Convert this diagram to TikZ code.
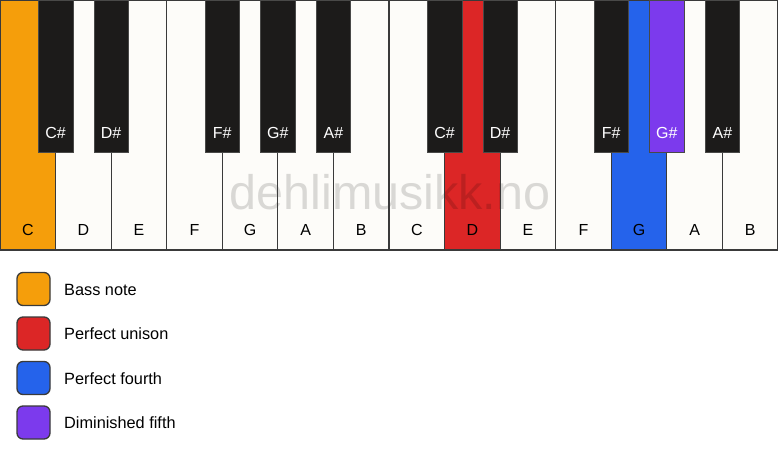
\documentclass[tikz,border=0pt]{standalone}
\usepackage{fontspec}
\setmainfont{Liberation Sans}
\definecolor{keywhite}{HTML}{FDFCF9}
\definecolor{keyblack}{HTML}{1C1B1A}
\definecolor{keyline}{HTML}{3A3A3A}
\definecolor{cbass}{HTML}{F59E0B}
\definecolor{cunison}{HTML}{DC2626}
\definecolor{cfourth}{HTML}{2563EB}
\definecolor{cfifth}{HTML}{7C3AED}
\tikzset{
  whitekey/.style={fill=keywhite, rectangle, anchor=north west, minimum width=55.571pt, minimum height=250pt, inner sep=0pt, outer sep=0pt},
  keyedge/.style={draw=keyline, line width=1.2pt},
  blackkey/.style={draw=keyblack!80, line width=0.6pt, fill=keyblack, rectangle, anchor=north, minimum width=34.5pt, minimum height=152.5pt, inner sep=0pt, outer sep=0pt},
  wlabel/.style={font=\fontsize{16}{16}\selectfont, text=black, inner sep=0pt},
  blabel/.style={font=\fontsize{16}{16}\selectfont, text=white, inner sep=0pt},
  legbox/.style={draw=keyline, line width=1.3pt, rounded corners=6pt, minimum width=33pt, minimum height=33pt, inner sep=0pt},
  legtext/.style={font=\fontsize{16.3}{16.3}\selectfont, anchor=west, inner sep=0pt},
  watermark/.style={font=\fontsize{48.5}{48.5}\selectfont, text=black, text opacity=0.14, inner sep=0pt},
}
\begin{document}
\begin{tikzpicture}[x=1pt,y=-1pt]
\useasboundingbox[fill=white] (0,0) rectangle (778,461);
% white keys (fills)
\foreach \i/\c in {0/cbass,1/keywhite,2/keywhite,3/keywhite,4/keywhite,5/keywhite,6/keywhite,7/keywhite,8/cunison,9/keywhite,10/keywhite,11/cfourth,12/keywhite,13/keywhite}{
  \node[whitekey, fill=\c] (w\i) at (\i*55.571,0) {};
}
% watermark
\node[watermark] (wm) at (390,192) {dehlimusikk.no};
% white key outlines and labels
\foreach \i/\n in {0/C,1/D,2/E,3/F,4/G,5/A,6/B,7/C,8/D,9/E,10/F,11/G,12/A,13/B}{
  \draw[keyedge] (w\i.north west) rectangle (w\i.south east);
  \node[wlabel] (wl\i) at (\i*55.571+27.786,230) {\n};
}
% black keys
\foreach \k/\n/\c in {1/C\#/keyblack,2/D\#/keyblack,4/F\#/keyblack,5/G\#/keyblack,6/A\#/keyblack,8/C\#/keyblack,9/D\#/keyblack,11/F\#/keyblack,12/G\#/cfifth,13/A\#/keyblack}{
  \node[blackkey, fill=\c] (b\k) at (\k*55.571,0) {};
  \node[blabel] (bl\k) at (\k*55.571,133) {\n};
}
% legend
\node[legbox, fill=cbass] (lg1) at (33.5,289) {};
\node[legtext] (lt1) at (64,289.5) {Bass note};
\node[legbox, fill=cunison] (lg2) at (33.5,333.5) {};
\node[legtext] (lt2) at (64,334) {Perfect unison};
\node[legbox, fill=cfourth] (lg3) at (33.5,378) {};
\node[legtext] (lt3) at (64,378.5) {Perfect fourth};
\node[legbox, fill=cfifth] (lg4) at (33.5,422.5) {};
\node[legtext] (lt4) at (64,423) {Diminished fifth};
\end{tikzpicture}
\end{document}
